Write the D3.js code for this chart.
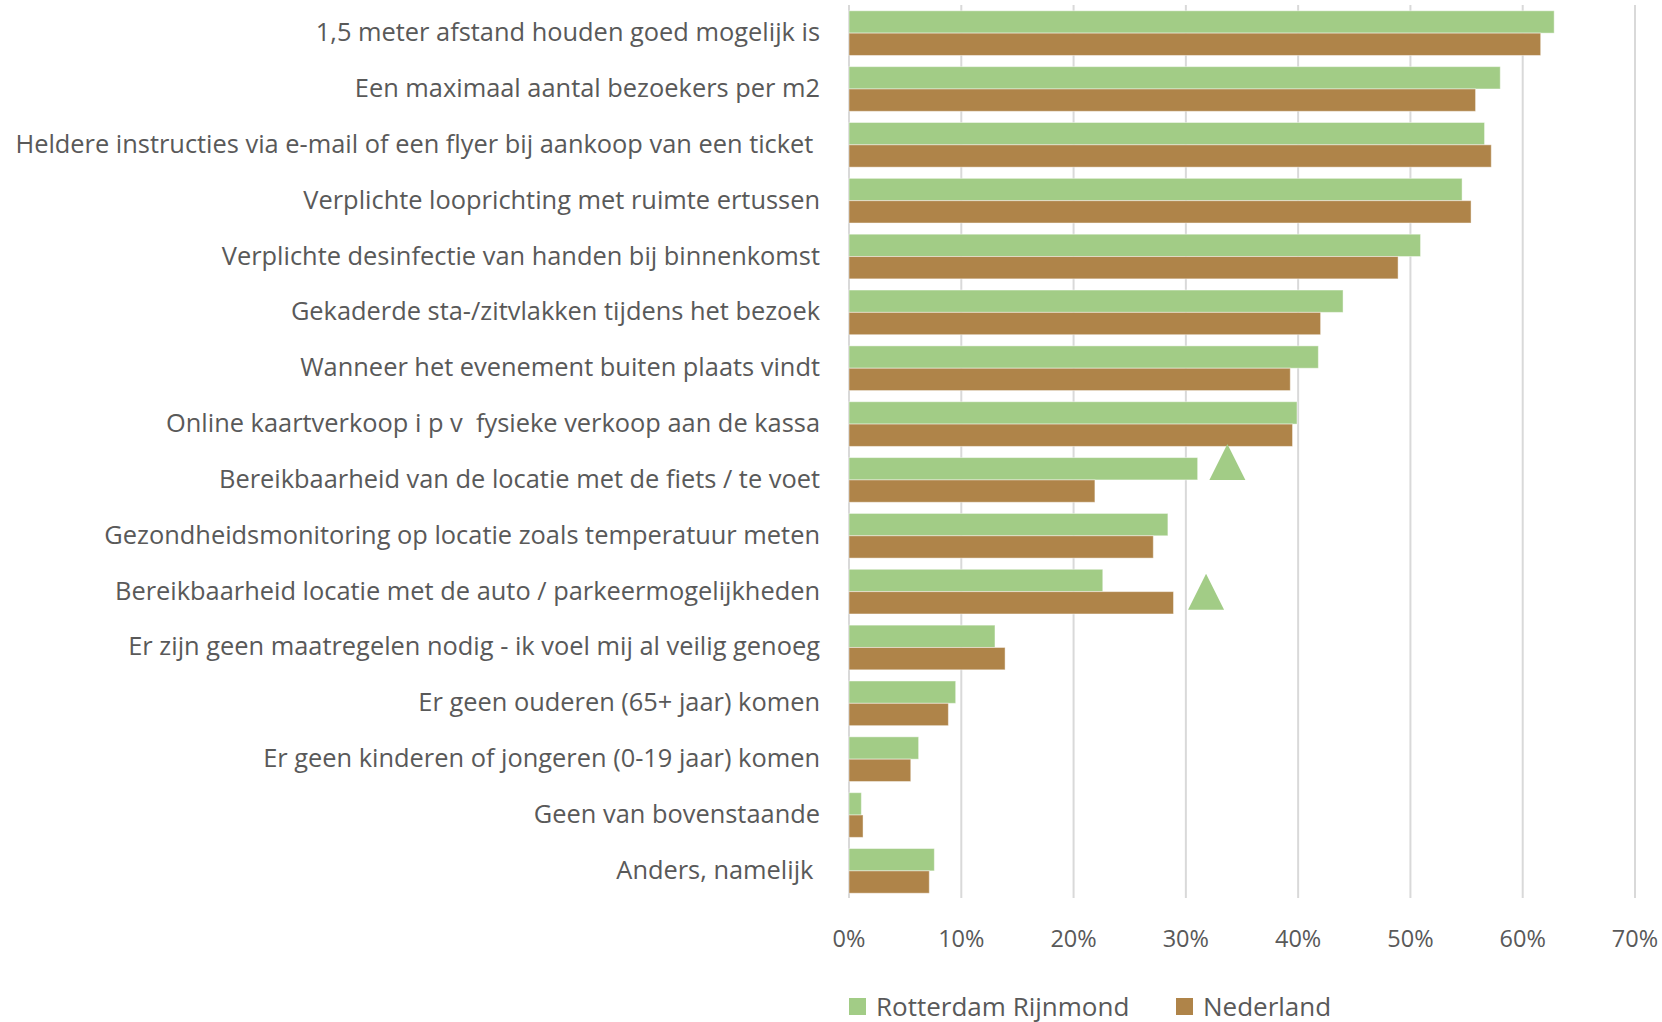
<!DOCTYPE html>
<html>
<head>
<meta charset="utf-8">
<script src="https://cdn.jsdelivr.net/npm/d3@7"></script>
<style>
  html, body { margin: 0; padding: 0; background: #fff; }
  svg { display: block; }
  text { font-family: "Open Sans", Lato, sans-serif; fill: #595959; }
</style>
</head>
<body>
<svg id="chart" width="1662" height="1022"></svg>
<script>
const categories = [
  "1,5 meter afstand houden goed mogelijk is",
  "Een maximaal aantal bezoekers per m2",
  "Heldere instructies via e-mail of een flyer bij aankoop van een ticket ",
  "Verplichte looprichting met ruimte ertussen",
  "Verplichte desinfectie van handen bij binnenkomst",
  "Gekaderde sta-/zitvlakken tijdens het bezoek",
  "Wanneer het evenement buiten plaats vindt",
  "Online kaartverkoop i p v  fysieke verkoop aan de kassa",
  "Bereikbaarheid van de locatie met de fiets / te voet",
  "Gezondheidsmonitoring op locatie zoals temperatuur meten",
  "Bereikbaarheid locatie met de auto / parkeermogelijkheden",
  "Er zijn geen maatregelen nodig - ik voel mij al veilig genoeg",
  "Er geen ouderen (65+ jaar) komen",
  "Er geen kinderen of jongeren (0-19 jaar) komen",
  "Geen van bovenstaande",
  "Anders, namelijk "
];
const seriesNames = ["Rotterdam Rijnmond", "Nederland"];
const rotterdam = [0.628, 0.580, 0.566, 0.546, 0.509, 0.440, 0.418, 0.399, 0.3105, 0.284, 0.226, 0.130, 0.095, 0.062, 0.011, 0.076];
const nederland = [0.616, 0.558, 0.572, 0.554, 0.489, 0.420, 0.393, 0.395, 0.219, 0.271, 0.289, 0.139, 0.0885, 0.055, 0.0125, 0.0715];
const ticks = [0, 0.1, 0.2, 0.3, 0.4, 0.5, 0.6, 0.7];
// significance markers: category, position on value axis, vertical alignment
const markerCategories = [categories[8], categories[10]];
const markerValues = [0.337, 0.318];
const markerAlign = ["above", "center"];

const colors = ["#A2CC86", "#AF8449"];

const svg = d3.select("#chart");
const x = d3.scaleLinear().domain([0, 0.7]).range([849, 1635]);
const y = d3.scaleBand().domain(categories).range([5.2, 898.8]).paddingInner(0.2).paddingOuter(0.1);
const sub = d3.scaleBand().domain(seriesNames).range([0, y.bandwidth()]);

// gridlines
svg.append("g").selectAll("line").data(ticks).join("line")
  .attr("x1", d => x(d)).attr("x2", d => x(d))
  .attr("y1", 5).attr("y2", 898)
  .attr("stroke", "#D9D9D9").attr("stroke-width", 2);

// bars
const rows = categories.map((c, i) => ({c, vals: [rotterdam[i], nederland[i]]}));
const g = svg.append("g").selectAll("g").data(rows).join("g")
  .attr("transform", d => `translate(0,${y(d.c)})`);
g.selectAll("rect").data(d => d.vals.map((v, k) => ({v, k}))).join("rect")
  .attr("x", x(0))
  .attr("y", d => sub(seriesNames[d.k]))
  .attr("width", d => x(d.v) - x(0))
  .attr("height", sub.bandwidth())
  .attr("fill", d => colors[d.k])
  .attr("stroke", "rgba(255,255,255,0.45)").attr("stroke-width", 1);

// category labels
svg.append("g").selectAll("text").data(categories).join("text")
  .attr("x", 820)
  .attr("y", d => y(d) + y.bandwidth() / 2 - 2)
  .attr("text-anchor", "end")
  .attr("dominant-baseline", "central")
  .attr("font-size", 25.4)
  .attr("xml:space", "preserve")
  .style("white-space", "pre")
  .text(d => d);

// tick labels
svg.append("g").selectAll("text").data(ticks).join("text")
  .attr("x", d => x(d))
  .attr("y", 938)
  .attr("text-anchor", "middle")
  .attr("dominant-baseline", "central")
  .attr("font-size", 23.5)
  .text(d => Math.round(d * 100) + "%");

// markers (triangles)
const tri = 36;
svg.append("g").selectAll("path").data(markerCategories.map((c, i) => ({c, v: markerValues[i], a: markerAlign[i]}))).join("path")
  .attr("d", d => {
    const cx = x(d.v);
    const mid = y(d.c) + y.bandwidth() / 2;
    const bottom = d.a === "above" ? mid : mid + tri / 2;
    return `M${cx - tri / 2},${bottom} L${cx + tri / 2},${bottom} L${cx},${bottom - tri} Z`;
  })
  .attr("fill", colors[0]);

// legend
const legendX = [849, 1176];
const lg = svg.append("g").selectAll("g").data(seriesNames).join("g")
  .attr("transform", (d, i) => `translate(${legendX[i]},998)`);
lg.append("rect").attr("width", 17).attr("height", 17).attr("fill", (d, i) => colors[i]);
lg.append("text").attr("x", 27).attr("y", 7.5).attr("dominant-baseline", "central")
  .attr("font-size", 26).text(d => d);
</script>
</body>
</html>
